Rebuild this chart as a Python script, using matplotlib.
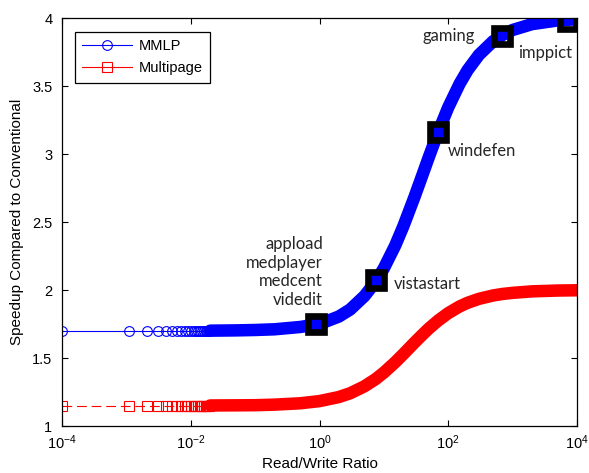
import matplotlib
matplotlib.use("Agg")
import matplotlib.pyplot as plt
from matplotlib.lines import Line2D
from matplotlib.ticker import FixedLocator, FixedFormatter, NullLocator

plt.rcParams['font.family'] = ['Liberation Sans', 'DejaVu Sans']
plt.rcParams['mathtext.fontset'] = 'custom'
plt.rcParams['mathtext.rm'] = 'Liberation Sans'
plt.rcParams['mathtext.it'] = 'Liberation Sans:italic'
plt.rcParams['mathtext.bf'] = 'Liberation Sans:bold'
plt.rcParams['lines.scale_dashes'] = False

# ---------------- data ----------------
series_names = ["MMLP", "Multipage"]

# sparse (individually visible) sample points at the low end
sparse_x = [0.0001, 0.0011, 0.0021, 0.0031, 0.0041, 0.0051, 0.0061, 0.0071,
            0.0081, 0.0091, 0.0101, 0.0111, 0.0121, 0.0131, 0.0141, 0.0151,
            0.0161, 0.0171, 0.0181, 0.0191]
mmlp_sparse_y = [1.70, 1.70, 1.70, 1.70, 1.70, 1.70, 1.70, 1.70, 1.70, 1.70,
                 1.70, 1.70, 1.70, 1.70, 1.70, 1.70, 1.70, 1.70, 1.70, 1.70]
multi_sparse_y = [1.15, 1.15, 1.15, 1.15, 1.15, 1.15, 1.15, 1.15, 1.15, 1.15,
                  1.15, 1.15, 1.15, 1.15, 1.15, 1.15, 1.15, 1.15, 1.15, 1.15]

# dense part (markers merge into a thick band)
dense_x = [0.02, 0.05, 0.1, 0.2, 0.5, 1, 2, 3, 5, 7.5, 10, 15, 20, 30, 40, 50,
           70, 100, 150, 200, 300, 500, 700, 1000, 2000, 5000, 10000]
mmlp_dense_y = [1.701, 1.703, 1.706, 1.711, 1.728, 1.750, 1.805, 1.857, 1.956,
                2.063, 2.160, 2.327, 2.467, 2.686, 2.850, 2.978, 3.164, 3.343,
                3.516, 3.617, 3.729, 3.830, 3.876, 3.912, 3.955, 3.982, 3.991]
multi_dense_y = [1.151, 1.152, 1.153, 1.157, 1.167, 1.183, 1.213, 1.241, 1.292,
                 1.346, 1.393, 1.469, 1.528, 1.614, 1.673, 1.717, 1.776, 1.830,
                 1.879, 1.906, 1.935, 1.960, 1.971, 1.979, 1.990, 1.996, 1.998]

# highlighted workloads
workload_x = [0.87, 7.5, 69, 680, 7300]
workload_y = [1.75, 2.07, 3.16, 3.87, 3.98]
workload_labels = ["appload\nmedplayer\nmedcent\nvidedit", "vistastart",
                   "windefen", "gaming", "imppict"]

xtick_vals = [1e-4, 1e-2, 1e0, 1e2, 1e4]
xtick_labels = [r"$\mathregular{10^{-4}}$", r"$\mathregular{10^{-2}}$",
                r"$\mathregular{10^{0}}$", r"$\mathregular{10^{2}}$",
                r"$\mathregular{10^{4}}$"]
ytick_vals = [1, 1.5, 2, 2.5, 3, 3.5, 4]
ytick_labels = ["1", "1.5", "2", "2.5", "3", "3.5", "4"]

BLUE = (0, 0, 1)
RED = (1, 0, 0)

# ---------------- figure ----------------
fig = plt.figure(figsize=(5.89, 4.73), dpi=100)
ax = fig.add_axes([62 / 589, 47 / 473, 515 / 589, 408 / 473])
ax.set_xscale("log")

# Multipage
ax.plot(sparse_x, multi_sparse_y, color=RED, lw=0.8, dashes=(7, 3.5),
        marker="s", ms=7, mfc="none", mec=RED, mew=0.8)
ax.plot(dense_x, multi_dense_y, color=RED, lw=9,
        solid_capstyle="round", solid_joinstyle="round")

# MMLP
ax.plot(sparse_x, mmlp_sparse_y, color=BLUE, lw=0.8,
        marker="o", ms=7, mfc="none", mec=BLUE, mew=0.8)
ax.plot(dense_x, mmlp_dense_y, color=BLUE, lw=9,
        solid_capstyle="round", solid_joinstyle="round")

# workload markers
ax.plot(workload_x, workload_y, linestyle="none", marker="s", ms=11,
        mfc="none", mec="black", mew=4.8, zorder=5)

ann_font = dict(family=["Lato", "DejaVu Sans"], fontsize=12, color="#262626")
offsets = [((5.4, 37.3), "right", 1.2), ((13, -2.4), "left", 1.2),
           ((7.2, -13.5), "left", 1.2), ((-19.2, 0), "right", 1.2),
           ((2.7, -23), "right", 1.2)]
for (x, y, lab, (off, ha, ls)) in zip(workload_x, workload_y, workload_labels, offsets):
    ax.annotate(lab, xy=(x, y), xytext=off, textcoords="offset points",
                ha=ha, va="center", multialignment="right", linespacing=ls,
                **ann_font, zorder=6)

ax.set_xlim(1e-4, 1e4)
ax.set_ylim(1, 4)
ax.xaxis.set_major_locator(FixedLocator(xtick_vals))
ax.xaxis.set_major_formatter(FixedFormatter(xtick_labels))
ax.xaxis.set_minor_locator(NullLocator())
ax.yaxis.set_major_locator(FixedLocator(ytick_vals))
ax.yaxis.set_major_formatter(FixedFormatter(ytick_labels))
ax.tick_params(direction="in", length=4, width=0.8, top=True, right=True,
               labelsize=10.5)
ax.tick_params(axis="y", pad=7)
ax.tick_params(axis="x", pad=5)
for s in ax.spines.values():
    s.set_linewidth(0.9)
    s.set_color("black")

ax.set_xlabel("Read/Write Ratio", fontsize=11, labelpad=4)
ax.set_ylabel("Speedup Compared to Conventional", fontsize=11, labelpad=6)

handles = [Line2D([], [], color=BLUE, lw=0.8, marker="o", ms=7, mfc="none", mew=0.8),
           Line2D([], [], color=RED, lw=0.8, marker="s", ms=7, mfc="none", mew=0.8)]
leg = ax.legend(handles, series_names, loc="upper left",
                bbox_to_anchor=((75 - 62) / 515, (426 - 32) / 408),
                borderaxespad=0, fancybox=False, framealpha=1, edgecolor="black",
                fontsize=10.5, handlelength=3.4, labelspacing=0.55,
                borderpad=0.5, handletextpad=0.5)
leg.get_frame().set_linewidth(0.9)

fig.savefig("out.png", dpi=100)
